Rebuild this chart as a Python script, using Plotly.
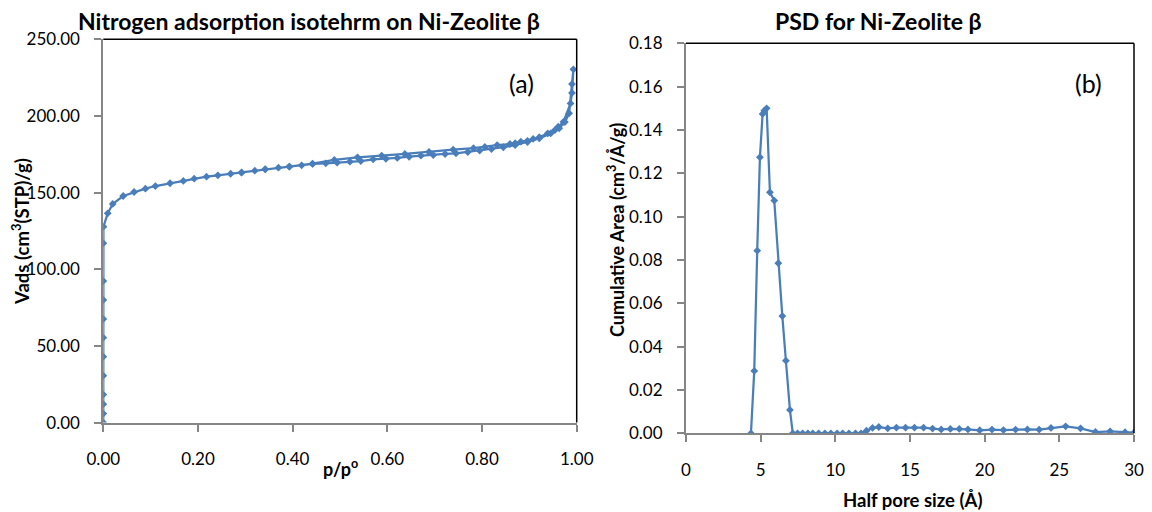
import plotly.graph_objects as go
from plotly.subplots import make_subplots

# isotherm (a): adsorption then desorption, p/p0 and Vads
p_ads = [0.0, 0.0, 0.0, 0.0, 0.0, 0.0, 0.0, 0.0, 0.0, 0.0, 0.0001, 0.0003,
         0.0093, 0.0199, 0.042, 0.065, 0.089, 0.110, 0.141, 0.169, 0.192,
         0.218, 0.242, 0.269, 0.292, 0.320, 0.342, 0.370, 0.393, 0.419,
         0.442, 0.470, 0.494, 0.521, 0.544, 0.570, 0.597, 0.621, 0.646,
         0.671, 0.697, 0.722, 0.745, 0.770, 0.795, 0.820, 0.845, 0.870,
         0.896, 0.921, 0.945, 0.963, 0.975, 0.984, 0.990, 0.993]
v_ads = [0.0, 5.9, 12.0, 18.3, 30.6, 43.0, 55.4, 67.5, 80.0, 92.4, 117.0, 127.8,
         136.5, 142.6, 147.8, 150.4, 152.6, 154.3, 156.1, 157.6, 159.1,
         160.4, 161.3, 162.3, 163.0, 164.3, 165.2, 166.3, 166.9, 167.8,
         168.7, 169.1, 169.5, 170.2, 170.6, 171.7, 172.1, 172.6, 173.4,
         174.1, 174.5, 175.2, 175.6, 176.5, 177.4, 178.4, 179.6, 181.0,
         183.0, 185.4, 188.6, 192.0, 196.0, 201.7, 220.8, 230.4]
p_des = [0.990, 0.987, 0.972, 0.961, 0.954, 0.939, 0.921, 0.908, 0.896,
         0.882, 0.870, 0.859, 0.832, 0.806, 0.782, 0.739, 0.688, 0.637,
         0.588, 0.537, 0.488, 0.442, 0.393, 0.342, 0.292]
v_des = [215.0, 208.2, 196.2, 193.0, 190.8, 188.7, 186.1, 185.0, 183.8,
         183.2, 182.2, 181.7, 181.0, 179.8, 179.0, 178.0, 176.5, 175.2,
         174.1, 173.0, 171.3, 168.9, 167.0, 165.3, 163.2]

# pore size distribution (b)
half_pore = [4.35, 4.57, 4.77, 4.95, 5.13, 5.24, 5.40, 5.62, 5.91, 6.18, 6.45,
             6.69, 6.96, 7.15, 7.47, 7.81, 8.16, 8.49, 8.88, 9.30, 9.70,
             10.12, 10.49, 10.91, 11.35, 11.72, 12.09, 12.49, 12.91, 13.51,
             14.09, 14.70, 15.30, 15.91, 16.51, 17.09, 17.70, 18.30, 18.88,
             19.67, 20.49, 21.26, 22.07, 22.86, 23.65, 24.44, 25.42, 26.42,
             27.42, 28.40, 29.40, 30.0]
cum_area = [0.0, 0.0288, 0.0843, 0.1274, 0.1474, 0.1489, 0.1500, 0.1112,
            0.1074, 0.0785, 0.0541, 0.0335, 0.0108, 0.0, 0.0, 0.0, 0.0, 0.0,
            0.0, 0.0, 0.0, 0.0, 0.0, 0.0, 0.0, 0.0, 0.0012, 0.0025, 0.0029,
            0.0023, 0.0026, 0.0026, 0.0026, 0.0026, 0.0022, 0.0018, 0.0020,
            0.0020, 0.0018, 0.0014, 0.0017, 0.0015, 0.0017, 0.0018, 0.0017,
            0.0025, 0.0032, 0.0023, 0.0006, 0.0009, 0.0005, 0.0003]

blue = "#4A7EBB"
grey = "#868686"
fnt = "Lato, Calibri, sans-serif"

W, H = 1152, 512

# helpers: page pixels -> paper fractions
def fx(px):
    return px / W

def fy(px):
    return 1 - px / H

fig = make_subplots(rows=1, cols=2)

fig.add_trace(go.Scatter(
    x=p_ads + p_des, y=v_ads + v_des, mode="lines+markers",
    line=dict(color=blue, width=2.25),
    marker=dict(symbol="diamond", size=6, color=blue),
    showlegend=False), row=1, col=1)

fig.add_trace(go.Scatter(
    x=half_pore, y=cum_area, mode="lines+markers",
    line=dict(color=blue, width=2.25),
    marker=dict(symbol="diamond", size=6, color=blue),
    showlegend=False), row=1, col=2)

axis_style = dict(showline=True, linecolor=grey, linewidth=2, ticks="outside",
                  ticklen=7, tickwidth=2, tickcolor=grey, showgrid=False,
                  zeroline=False, automargin=False,
                  tickfont=dict(family=fnt, size=17, color="black"),
                  ticklabelstandoff=13)

fig.update_xaxes(axis_style)
fig.update_yaxes(axis_style)
fig.update_yaxes(ticklabelstandoff=11)

fig.update_layout(
    width=W, height=H,
    margin=dict(l=0, r=0, t=0, b=0, autoexpand=False),
    plot_bgcolor="white", paper_bgcolor="white",
    xaxis=dict(domain=[fx(103.3), fx(576.7)], range=[0, 1],
               tickvals=[0, 0.2, 0.4, 0.6, 0.8, 1.0], tickformat=".2f"),
    yaxis=dict(domain=[fy(422.6), fy(39.3)], range=[0, 250],
               dtick=50, tickformat=".2f"),
    xaxis2=dict(domain=[fx(686), fx(1134)], range=[0, 30], dtick=5),
    yaxis2=dict(domain=[fy(433.3), fy(43.3)], range=[0, 0.18],
                dtick=0.02, tickformat=".2f"),
)

# top and right frame lines (black), like the Excel plot area border
for xr in ["x", "x2"]:
    yr = "y" if xr == "x" else "y2"
    fig.add_shape(type="line", xref=xr + " domain", yref=yr + " domain",
                  x0=0, x1=1, y0=1, y1=1, line=dict(color="black", width=1.5))
    fig.add_shape(type="line", xref=xr + " domain", yref=yr + " domain",
                  x0=1, x1=1, y0=0, y1=1, line=dict(color="black", width=1.5))

def px_note(text, x, y, size, bold=False, angle=0):
    if bold:
        text = "<b>" + text + "</b>"
    fig.add_annotation(text=text, x=fx(x), y=fy(y), xref="paper",
                       yref="paper", showarrow=False, textangle=angle,
                       xanchor="center", yanchor="middle",
                       font=dict(family=fnt, size=size, color="black"))

px_note("Nitrogen adsorption isotehrm on Ni-Zeolite β", 309, 21, 23, bold=True)
px_note("PSD for Ni-Zeolite β", 878, 21, 23, bold=True)
px_note("(a)", 521, 83, 25)
px_note("(b)", 1088, 83, 25)
px_note("p/p<sup>o</sup>", 340, 468, 18, bold=True)
px_note("Half pore size (Å)", 912, 500, 18.5, bold=True)
px_note("Vads (cm<sup>3</sup>(STP)/g)", 20, 232, 18.5, bold=True, angle=-90)
px_note("Cumulative Area (cm<sup>3</sup>/Å/g)", 616, 230, 18, bold=True, angle=-90)

# drop the default 8px body margin so the figure fills the window exactly
fig.write_html("out.html", config={"displayModeBar": False},
               post_script="document.body.style.margin='0';")
